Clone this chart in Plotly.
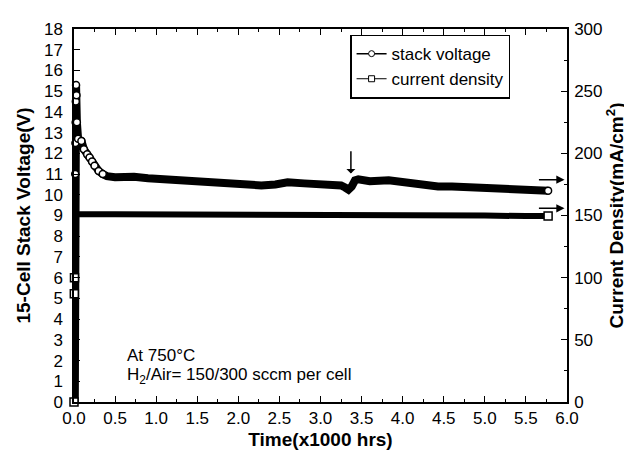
import plotly.graph_objects as go

# ---- data ----
t_volt = [0.01, 0.012, 0.015, 0.017, 0.02, 0.022, 0.025, 0.03, 0.035, 0.05, 0.09, 0.12,
          0.16, 0.19, 0.22, 0.25, 0.30, 0.35, 0.40, 0.50, 0.60, 0.73, 0.90, 1.10, 1.30,
          1.55, 1.70, 1.88, 2.05, 2.28, 2.45, 2.60, 2.80, 3.00, 3.13, 3.25, 3.30, 3.34,
          3.38, 3.42, 3.46, 3.60, 3.83, 4.00, 4.20, 4.43, 4.60, 4.80, 5.00, 5.24, 5.40,
          5.60, 5.77]
voltage = [0.0, 6.0, 11.0, 12.5, 13.5, 14.5, 15.3, 14.8, 13.5, 12.7, 12.6, 12.2,
           11.95, 11.8, 11.6, 11.4, 11.15, 11.0, 10.9, 10.85, 10.9, 10.87, 10.8, 10.75, 10.7,
           10.6, 10.55, 10.5, 10.5, 10.45, 10.5, 10.6, 10.55, 10.5, 10.5, 10.45, 10.35, 10.25,
           10.4, 10.7, 10.75, 10.65, 10.7, 10.6, 10.5, 10.4, 10.4, 10.35, 10.3, 10.3, 10.25,
           10.2, 10.2]

t_curr = [0.0, 0.004, 0.006, 0.008, 0.01, 0.015, 0.5, 1.0, 1.5, 2.0, 2.5, 3.0, 3.5,
          4.0, 4.5, 5.0, 5.5, 5.77]
current = [0.0, 87.0, 100.0, 130.0, 151.0, 151.0, 151.0, 151.0, 151.0, 150.5, 150.5,
           150.5, 150.5, 150.0, 150.0, 150.0, 149.5, 149.5]

x_ticks = [0.0, 0.5, 1.0, 1.5, 2.0, 2.5, 3.0, 3.5, 4.0, 4.5, 5.0, 5.5, 6.0]

FONT = "Liberation Sans, Arial, sans-serif"

fig = go.Figure()

# thick band of dense voltage markers
fig.add_trace(go.Scatter(x=t_volt, y=voltage, mode="lines",
                         line=dict(color="black", width=8),
                         showlegend=False, hoverinfo="skip"))
# visible open circles during start-up decay and at the end
fig.add_trace(go.Scatter(x=t_volt[2:18] + t_volt[-1:], y=voltage[2:18] + voltage[-1:],
                         mode="markers", cliponaxis=False,
                         marker=dict(symbol="circle", size=7, color="white",
                                     line=dict(color="black", width=1.5)),
                         showlegend=False, hoverinfo="skip"))

# current density band
fig.add_trace(go.Scatter(x=t_curr, y=current, mode="lines", yaxis="y2",
                         line=dict(color="black", width=6),
                         showlegend=False, hoverinfo="skip"))
fig.add_trace(go.Scatter(x=t_curr[:3] + t_curr[-1:], y=current[:3] + current[-1:],
                         mode="markers", yaxis="y2", cliponaxis=False,
                         marker=dict(symbol="square", size=8, color="white",
                                     line=dict(color="black", width=1.5)),
                         showlegend=False, hoverinfo="skip"))

# legend entries
fig.add_trace(go.Scatter(x=[None], y=[None], mode="lines+markers", name="stack voltage",
                         line=dict(color="black", width=1.5),
                         marker=dict(symbol="circle", size=6, color="white",
                                     line=dict(color="black", width=1))))
fig.add_trace(go.Scatter(x=[None], y=[None], mode="lines+markers", name="current density",
                         line=dict(color="black", width=1),
                         marker=dict(symbol="square", size=6, color="white",
                                     line=dict(color="black", width=1))))

axis_common = dict(showline=True, linecolor="black", linewidth=1.5, ticks="inside",
                   tickcolor="black", tickwidth=1.2, showgrid=False, zeroline=False,
                   tickfont=dict(family=FONT, size=17, color="black"))

TITLE_FONT = dict(family=FONT, size=19, color="black")

fig.update_layout(
    width=632, height=453,
    margin=dict(l=66, r=73, t=15, b=59),
    paper_bgcolor="white", plot_bgcolor="white",
    font=dict(family=FONT, size=17, color="black"),
    xaxis=dict(range=[0, 6.0], tickvals=x_ticks, ticktext=[f"{v:.1f}" for v in x_ticks],
               ticklen=6, mirror="ticks",
               minor=dict(dtick=0.25, ticks="inside", ticklen=3, tickcolor="black"),
               title=dict(text="<b>Time(x1000 hrs)</b>", font=TITLE_FONT, standoff=6),
               **axis_common),
    yaxis=dict(range=[0, 18], dtick=1, ticklen=6, ticklabelstandoff=6,
               title=dict(text="<b>15-Cell Stack Voltage(V)</b>", font=TITLE_FONT,
                          standoff=8),
               **axis_common),
    yaxis2=dict(range=[0, 300], dtick=50, ticklen=6, overlaying="y", side="right",
                ticklabelstandoff=2,
                minor=dict(dtick=25, ticks="inside", ticklen=3, tickcolor="black"),
                title=dict(text="<b>Current Density(mA/cm<sup>2</sup>)</b>",
                           font=TITLE_FONT, standoff=6),
                **axis_common),
    legend=dict(x=0.56, y=0.985, xanchor="left", yanchor="top",
                bordercolor="black", borderwidth=1.5, bgcolor="white",
                font=dict(family=FONT, size=17), tracegroupgap=0,
                itemwidth=30),
    annotations=[
        dict(x=3.37, y=12.1, ax=3.37, ay=10.95, xref="x", yref="y", axref="x", ayref="y",
             text="", showarrow=True, arrowhead=2, arrowsize=1.2, arrowwidth=1.5,
             arrowside="start", arrowcolor="black"),
        dict(x=5.97, y=10.73, ax=5.64, ay=10.73, xref="x", yref="y", axref="x", ayref="y",
             text="", showarrow=True, arrowhead=2, arrowsize=1.1, arrowwidth=1.5,
             arrowcolor="black"),
        dict(x=5.97, y=9.35, ax=5.64, ay=9.35, xref="x", yref="y", axref="x", ayref="y",
             text="", showarrow=True, arrowhead=2, arrowsize=1.1, arrowwidth=1.5,
             arrowcolor="black"),
        dict(x=0.62, y=2.25, xref="x", yref="y", xanchor="left",
             yanchor="middle", showarrow=False, text="At 750°C",
             font=dict(family=FONT, size=17)),
        dict(x=0.62, y=1.25, xref="x", yref="y", xanchor="left",
             yanchor="middle", showarrow=False,
             text="H<sub>2</sub>/Air= 150/300 sccm per cell",
             font=dict(family=FONT, size=17)),
    ],
)

fig.write_html("out.html")
